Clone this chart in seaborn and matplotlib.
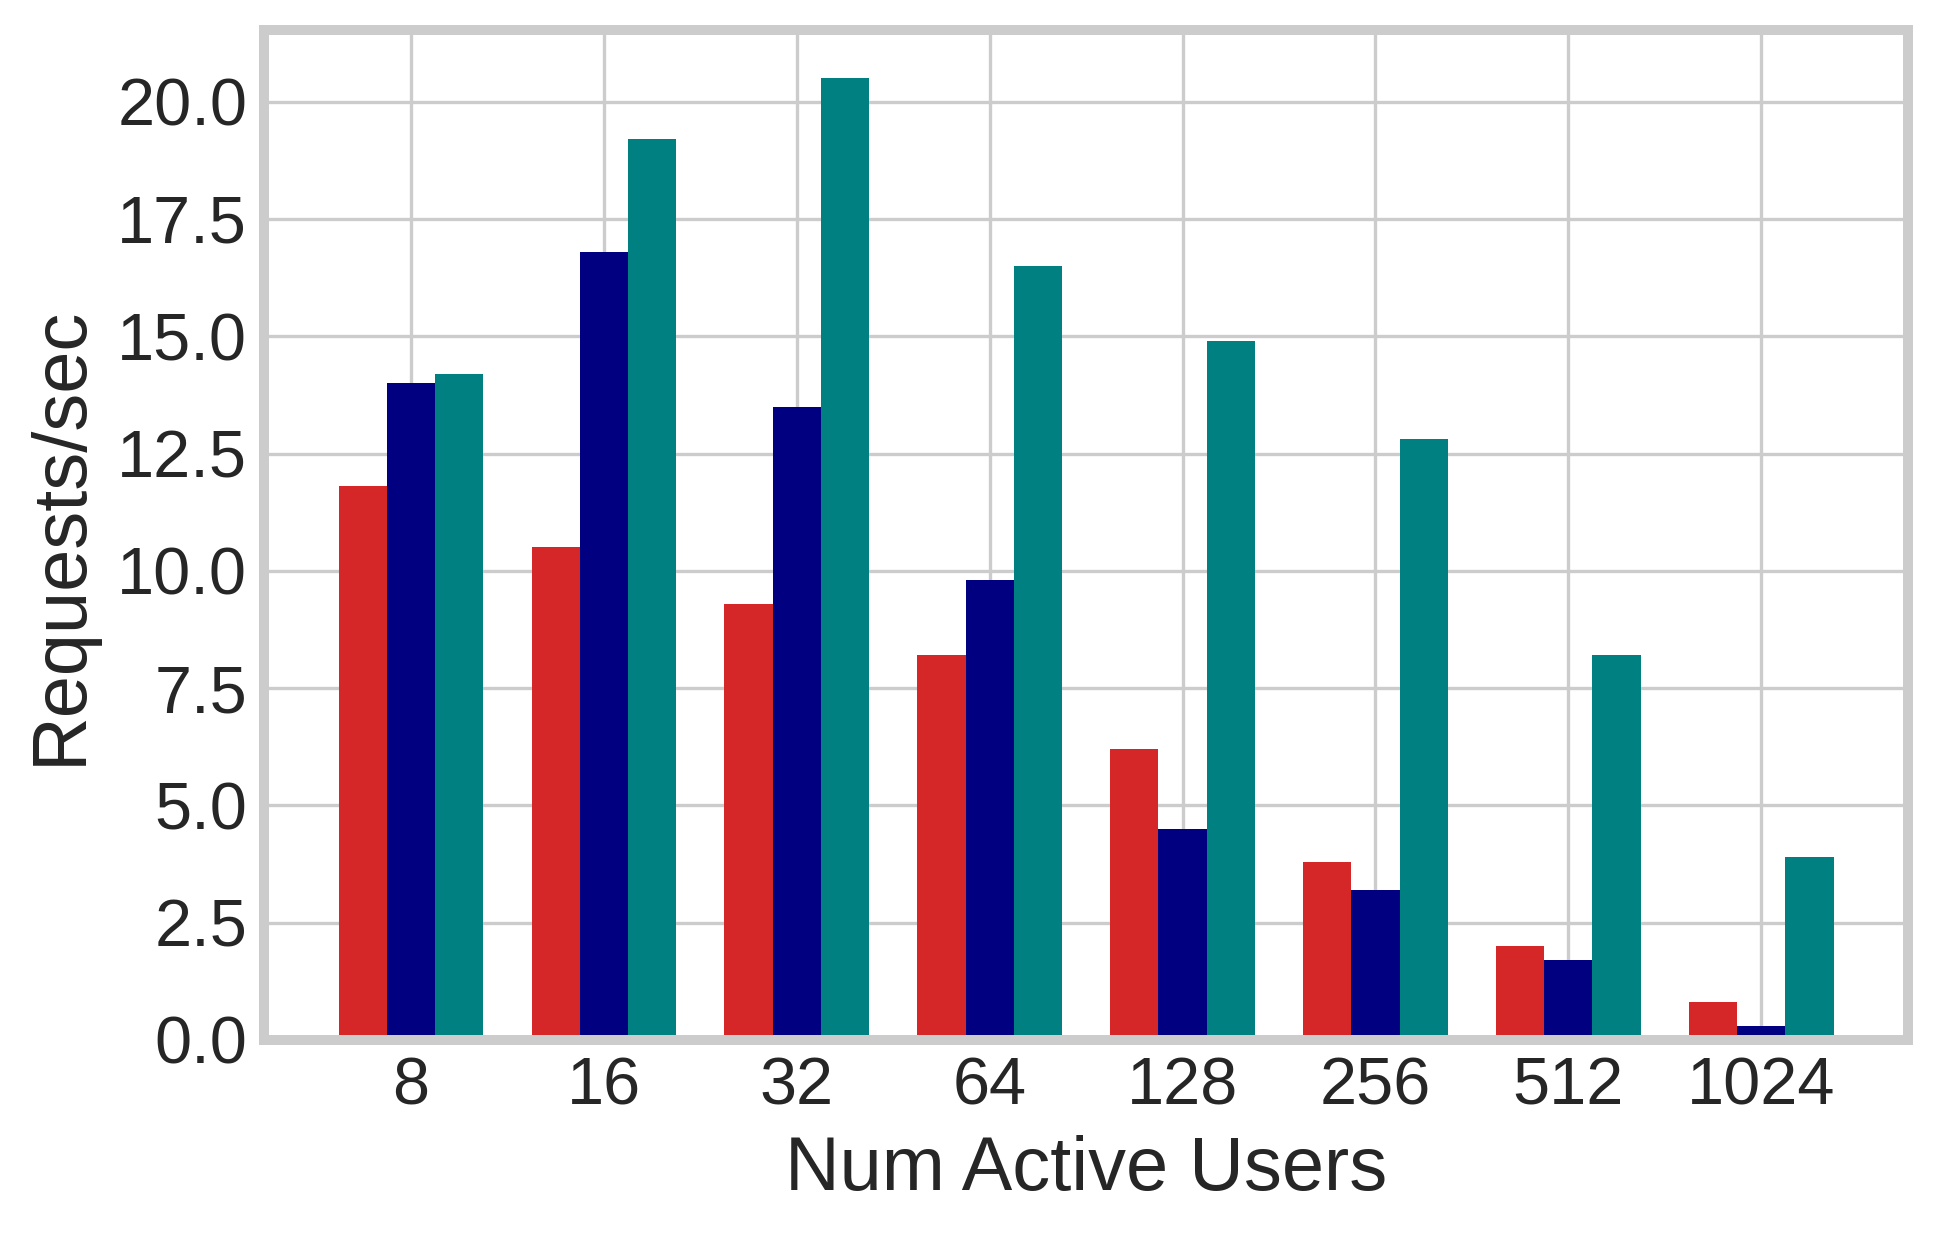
import matplotlib
matplotlib.use("Agg")
import matplotlib.pyplot as plt
import seaborn as sns
import pandas as pd

users = ["8", "16", "32", "64", "128", "256", "512", "1024"]
series_names = ["Series 1", "Series 2", "Series 3"]
red_values = [11.8, 10.5, 9.3, 8.2, 6.2, 3.8, 2.0, 0.8]
blue_values = [14.0, 16.8, 13.5, 9.8, 4.5, 3.2, 1.7, 0.3]
teal_values = [14.2, 19.2, 20.5, 16.5, 14.9, 12.8, 8.2, 3.9]
colors = ["#d62728", "#000080", "#008080"]

sns.set_theme(style="whitegrid")
plt.rcParams["font.family"] = ["Liberation Sans", "DejaVu Sans"]
plt.rcParams["axes.edgecolor"] = "#cccccc"
plt.rcParams["grid.color"] = "#cccccc"

df = pd.DataFrame({
    "users": users * 3,
    "series": [series_names[0]] * 8 + [series_names[1]] * 8 + [series_names[2]] * 8,
    "value": red_values + blue_values + teal_values,
})

fig = plt.figure(figsize=(1939 / 300, 1236 / 300), dpi=300)
ax = fig.add_axes([0.1361, 0.1586, 0.9842 - 0.1361, 0.9756 - 0.1586])
sns.barplot(data=df, x="users", y="value", hue="series", order=users,
            hue_order=series_names, palette=colors, width=0.75,
            saturation=1, legend=False, ax=ax, linewidth=0)

ax.set_xlim(-0.7625, 7.7625)
ax.set_ylim(0, 21.525)
ax.set_yticks([0, 2.5, 5, 7.5, 10, 12.5, 15, 17.5, 20])
ax.set_yticklabels(["0.0", "2.5", "5.0", "7.5", "10.0", "12.5", "15.0", "17.5", "20.0"])
ax.grid(True, axis="both", color="#cccccc", linewidth=0.8)
ax.set_axisbelow(True)
for s in ax.spines.values():
    s.set_color("#cccccc")
    s.set_linewidth(2.4)
    s.set_visible(True)

ax.tick_params(axis="both", labelsize=16, colors="#262626", length=0, pad=4)
ax.set_xlabel("Num Active Users", fontsize=18.2, color="#262626", labelpad=4)
ax.set_ylabel("Requests/sec", fontsize=18.2, color="#262626", labelpad=5)

fig.savefig("out.png", dpi=300)
